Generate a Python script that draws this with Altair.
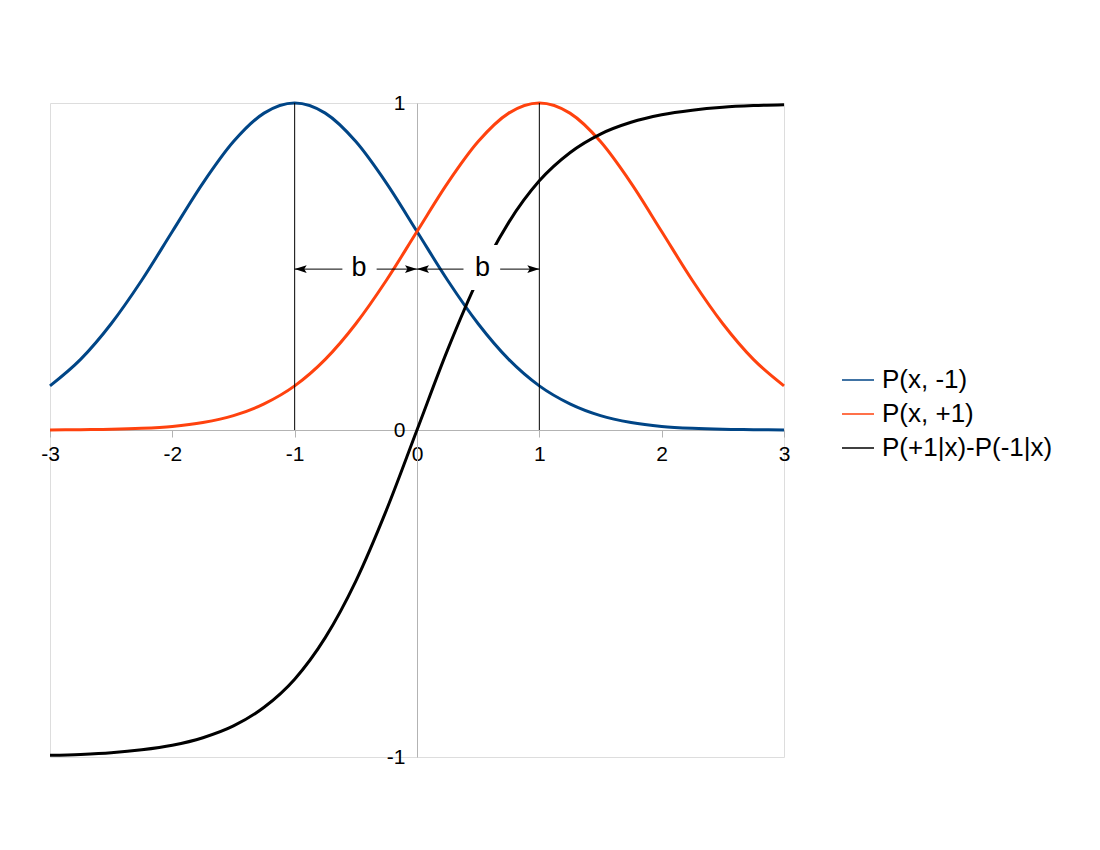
import altair as alt
import pandas as pd

# ---- data ----
x_vals = [-3.0, -2.75, -2.5, -2.25, -2.0, -1.75, -1.5, -1.25, -1.0, -0.75, -0.5, -0.25,
          0.0, 0.25, 0.5, 0.75, 1.0, 1.25, 1.5, 1.75, 2.0, 2.25, 2.5, 2.75, 3.0]
p_minus = [0.135, 0.216, 0.325, 0.458, 0.607, 0.755, 0.882, 0.969, 1.000, 0.969, 0.882, 0.755,
           0.607, 0.458, 0.325, 0.216, 0.135, 0.080, 0.044, 0.023, 0.011, 0.005, 0.002, 0.001, 0.000]
p_plus = [0.000, 0.001, 0.002, 0.005, 0.011, 0.023, 0.044, 0.080, 0.135, 0.216, 0.325, 0.458,
          0.607, 0.755, 0.882, 0.969, 1.000, 0.969, 0.882, 0.755, 0.607, 0.458, 0.325, 0.216, 0.135]
p_diff = [-0.995, -0.992, -0.987, -0.978, -0.964, -0.941, -0.905, -0.848, -0.762, -0.635, -0.462, -0.245,
          0.000, 0.245, 0.462, 0.635, 0.762, 0.848, 0.905, 0.941, 0.964, 0.978, 0.987, 0.992, 0.995]

series_names = ["P(x, -1)", "P(x, +1)", "P(+1|x)-P(-1|x)"]
series_colors = ["#004586", "#ff420e", "#000000"]

x_ticks = [-3, -2, -1, 0, 1, 2, 3]
y_ticks = [-1, 0, 1]

# annotation data
marker_x = [-1, 1]            # thin vertical lines
arrow_start = [-1, 0]
arrow_end = [0, 1]
arrow_y = 0.492
label_x = [-0.474, 0.535]
label_y = 0.495
label_text = ["b", "b"]
box_x1 = [-0.61, 0.38]
box_x2 = [-0.33, 0.68]
box_y1 = 0.428
box_y2 = 0.566

FONT = "Liberation Sans"
GRAY = "#b3b3b3"

rows = []
for name, vals in zip(series_names, [p_minus, p_plus, p_diff]):
    for xv, yv in zip(x_vals, vals):
        rows.append({"x": xv, "y": yv, "series": name})
df = pd.DataFrame(rows)

xscale = alt.Scale(domain=[-3, 3], nice=False, zero=False)
yscale = alt.Scale(domain=[-1, 1], nice=False, zero=False)

x_axis = alt.Axis(values=x_ticks, offset=-327, domainColor=GRAY, tickColor=GRAY, tickSize=7,
                  labelFontSize=21, labelFont=FONT, labelColor="black", labelPadding=6,
                  grid=False, title=None, labelFlush=False, labelOverlap=False,
                  labelExpr="'' + datum.value")
y_axis = alt.Axis(values=y_ticks, offset=-367, domainColor=GRAY, tickSize=0, ticks=False,
                  labelFontSize=21, labelFont=FONT, labelColor="black", labelPadding=12,
                  grid=False, title=None, labelFlush=False, labelOverlap=False,
                  labelExpr="'' + datum.value")

curves = alt.Chart(df).mark_line(strokeWidth=3, interpolate="monotone").encode(
    x=alt.X("x:Q", scale=xscale, axis=x_axis),
    y=alt.Y("y:Q", scale=yscale, axis=y_axis),
    color=alt.Color("series:N",
                    scale=alt.Scale(domain=series_names, range=series_colors),
                    sort=series_names,
                    legend=alt.Legend(orient="none", legendX=791, legendY=260, title=None,
                                      symbolType="stroke", symbolSize=1024, symbolStrokeWidth=1.5,
                                      labelFontSize=26, labelFont=FONT, labelColor="black",
                                      rowPadding=4, labelOffset=7, labelLimit=400, padding=0)),
    order=alt.Order("x:Q"),
    detail="series:N",
)

vlines = alt.Chart(pd.DataFrame({"x": marker_x, "y0": [0, 0], "y1": [1, 1]})).mark_rule(
    color="black", strokeWidth=1).encode(
    x=alt.X("x:Q", scale=xscale), y=alt.Y("y0:Q", scale=yscale), y2="y1:Q")

arrows_df = pd.DataFrame({"xs": arrow_start, "xe": arrow_end, "y": [arrow_y, arrow_y]})
arrow_lines = alt.Chart(arrows_df).mark_rule(color="black", strokeWidth=1).encode(
    x=alt.X("xs:Q", scale=xscale), x2="xe:Q", y=alt.Y("y:Q", scale=yscale))

boxes = alt.Chart(pd.DataFrame({"x1": box_x1, "x2": box_x2, "y1": [box_y1] * 2, "y2": [box_y2] * 2})).mark_rect(
    color="white", opacity=1).encode(
    x=alt.X("x1:Q", scale=xscale), x2="x2:Q", y=alt.Y("y1:Q", scale=yscale), y2="y2:Q")

labels = alt.Chart(pd.DataFrame({"x": label_x, "y": [label_y] * 2, "t": label_text})).mark_text(
    fontSize=27, font=FONT, color="black", align="center", baseline="middle").encode(
    x=alt.X("x:Q", scale=xscale), y=alt.Y("y:Q", scale=yscale), text="t:N")

LEFT_HEAD = "M0,0L1,-0.32L0.8,0L1,0.32Z"
RIGHT_HEAD = "M0,0L-1,-0.32L-0.8,0L-1,0.32Z"
heads_left = alt.Chart(arrows_df).mark_point(shape=LEFT_HEAD, filled=True, size=576,
                                             color="black", opacity=1, strokeWidth=0).encode(
    x=alt.X("xs:Q", scale=xscale), y=alt.Y("y:Q", scale=yscale))
heads_right = alt.Chart(arrows_df).mark_point(shape=RIGHT_HEAD, filled=True, size=576,
                                              color="black", opacity=1, strokeWidth=0).encode(
    x=alt.X("xe:Q", scale=xscale), y=alt.Y("y:Q", scale=yscale))

chart = alt.layer(curves, vlines, arrow_lines, boxes, labels, heads_left, heads_right).properties(
    width=734, height=654,
    autosize=alt.AutoSizeParams(type="none"),
    padding={"left": 42, "top": 95, "right": 300, "bottom": 60},
).configure_view(stroke=GRAY, strokeWidth=1).configure(background="white")

chart.save("out.html", embed_options={"renderer": "svg", "actions": False})
